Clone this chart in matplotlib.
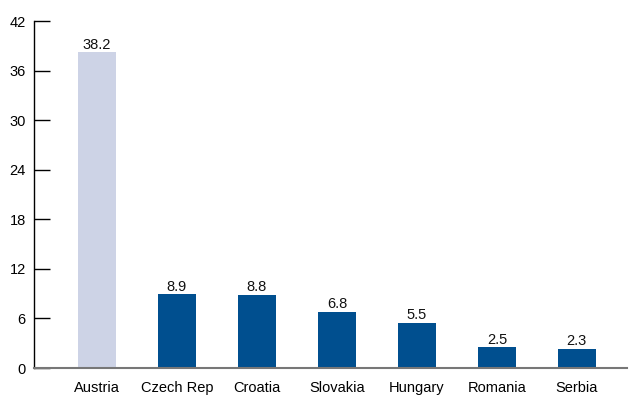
import matplotlib.pyplot as plt

# Data
COUNTRIES = ["Austria", "Czech Rep", "Croatia", "Slovakia", "Hungary", "Romania", "Serbia"]
VALUES = [38.2, 8.9, 8.8, 6.8, 5.5, 2.5, 2.3]
Y_TICKS = [0, 6, 12, 18, 24, 30, 36, 42]

LIGHT = "#cdd3e6"
DARK = "#004f8f"

plt.rcParams["font.family"] = ["Liberation Sans", "DejaVu Sans"]

fig = plt.figure(figsize=(6.3, 4.08), dpi=100)
ax = fig.add_axes([0.054, 0.098, 0.941, 0.8505])

x = list(range(len(COUNTRIES)))
colors = [LIGHT] + [DARK] * (len(COUNTRIES) - 1)
bars = ax.bar(x, VALUES, width=0.475, color=colors, zorder=2)

for xi, v in zip(x, VALUES):
    ax.text(xi, v + 0.1, f"{v:.1f}", ha="center", va="bottom", fontsize=10.5, color="#111111")

ax.set_xlim(-0.7875, 6.625)
ax.set_ylim(0, 42)
ax.set_yticks(Y_TICKS)
ax.set_xticks(x)
ax.set_xticklabels(COUNTRIES)

ax.spines["top"].set_visible(False)
ax.spines["right"].set_visible(False)
ax.spines["left"].set_color("black")
ax.spines["left"].set_linewidth(1.0)
ax.spines["bottom"].set_color("#777777")
ax.spines["bottom"].set_linewidth(1.5)

ax.tick_params(axis="y", direction="in", length=11.5, width=1.0, pad=6, labelsize=10.5, colors="black")
ax.tick_params(axis="x", length=0, pad=9, labelsize=10.5, colors="black")

fig.savefig("out.png", dpi=100)
